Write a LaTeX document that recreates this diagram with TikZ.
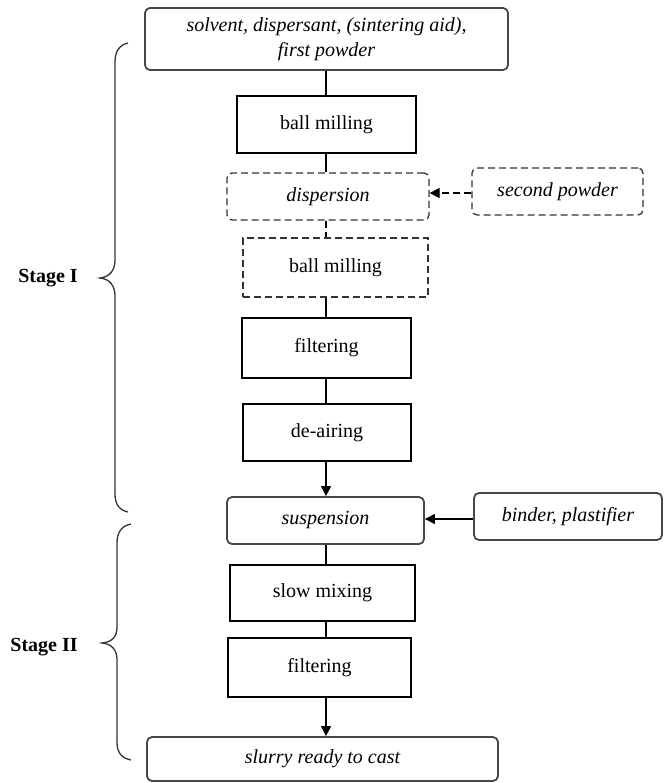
\documentclass[tikz,border=0pt]{standalone}
\usepackage{fontspec}
\setmainfont{Liberation Serif}
\usetikzlibrary{arrows.meta}
\begin{document}
\begin{tikzpicture}[x=1pt,y=-1pt]
\tikzset{
  basefont/.style={font=\fontsize{20}{25}\selectfont},
  plainbox/.style={draw=black, line width=1.1pt, inner sep=0pt, align=center, basefont},
  roundbox/.style={draw=black!72, line width=1.8pt, rounded corners=5pt, inner sep=0pt, align=center, font=\fontsize{20}{25}\selectfont\itshape},
  dashround/.style={draw=black!80, line width=1.3pt, dash pattern=on 7pt off 4pt, rounded corners=5pt, inner sep=0pt, align=center, font=\fontsize{20}{25}\selectfont\itshape},
  dashbox/.style={draw=black!80, line width=1.3pt, dash pattern=on 7pt off 4pt, inner sep=0pt, align=center, basefont},
  link/.style={line width=1.1pt},
  dashlink/.style={line width=1.3pt, dash pattern=on 7pt off 4pt},
  arrowlink/.style={line width=1.1pt, -{Triangle[length=10pt,width=10pt]}},
  dasharrow/.style={line width=1.3pt, dash pattern=on 7pt off 4pt, -{Triangle[length=10pt,width=10pt]}},
  stagelabel/.style={font=\fontsize{20}{24}\selectfont\bfseries},
  bracepath/.style={line width=1.3pt, draw=black!80}
}
\useasboundingbox (0,0) rectangle (664,783);

\node[roundbox, minimum width=363pt, minimum height=62pt] (top) at (326.5,39) {solvent, dispersant, (sintering aid),\\first powder};
\node[plainbox, minimum width=179pt, minimum height=57pt] (bm1) at (326.5,124.5) {ball milling};
\node[dashround, minimum width=202pt, minimum height=47pt] (disp) at (328,196.5) {dispersion};
\node[dashround, minimum width=171pt, minimum height=47pt] (sp) at (557.5,191.5) {second powder};
\node[dashbox, minimum width=185pt, minimum height=59pt] (bm2) at (335.5,267.5) {ball milling};
\node[plainbox, minimum width=169pt, minimum height=60pt] (filt1) at (326.5,348) {filtering};
\node[plainbox, minimum width=168pt, minimum height=57pt] (deair) at (327,432.5) {de-airing};
\node[roundbox, minimum width=197pt, minimum height=47pt] (susp) at (325.5,520.5) {suspension};
\node[roundbox, minimum width=188pt, minimum height=47pt] (binder) at (568,516.5) {binder, plastifier};
\node[plainbox, minimum width=185pt, minimum height=56pt] (slow) at (322.5,593) {slow mixing};
\node[plainbox, minimum width=183pt, minimum height=59pt] (filt2) at (319.5,667.5) {filtering};
\node[roundbox, minimum width=351pt, minimum height=44pt] (slurry) at (322.5,759) {slurry ready to cast};

\node[stagelabel] (s1) at (48,278) {Stage I};
\node[stagelabel] (s2) at (44,647) {Stage II};

\coordinate (ax) at (326,0);
\coordinate (ay1) at (0,193);
\coordinate (ay2) at (0,519);

\draw[link] (top.south -| ax) -- (bm1.north -| ax);
\draw[link] (bm1.south -| ax) -- (disp.north -| ax);
\draw[dashlink] (disp.south -| ax) -- (bm2.north -| ax);
\draw[link] (bm2.south -| ax) -- (filt1.north -| ax);
\draw[link] (filt1.south -| ax) -- (deair.north -| ax);
\draw[arrowlink] (deair.south -| ax) -- (susp.north -| ax);
\draw[link] (susp.south -| ax) -- (slow.north -| ax);
\draw[link] (slow.south -| ax) -- (filt2.north -| ax);
\draw[arrowlink] (filt2.south -| ax) -- (slurry.north -| ax);
\draw[dasharrow] (sp.west |- ay1) -- (disp.east |- ay1);
\draw[arrowlink] (binder.west |- ay2) -- (susp.east |- ay2);

% Stage I brace
\draw[bracepath] (128,43) .. controls (119,45) and (115,52) .. (115,62) -- (115,260)
  .. controls (115,270) and (110,277) .. (100,278)
  .. controls (110,279) and (115,286) .. (115,296) -- (115,494)
  .. controls (115,504) and (119,510) .. (128,512);
% Stage II brace
\draw[bracepath] (131,524) .. controls (121,526) and (117,533) .. (117,543) -- (117,627)
  .. controls (117,637) and (112,642) .. (102,643)
  .. controls (112,644) and (117,650) .. (117,660) -- (117,742)
  .. controls (117,752) and (121,758) .. (131,760);
\end{tikzpicture}
\end{document}
